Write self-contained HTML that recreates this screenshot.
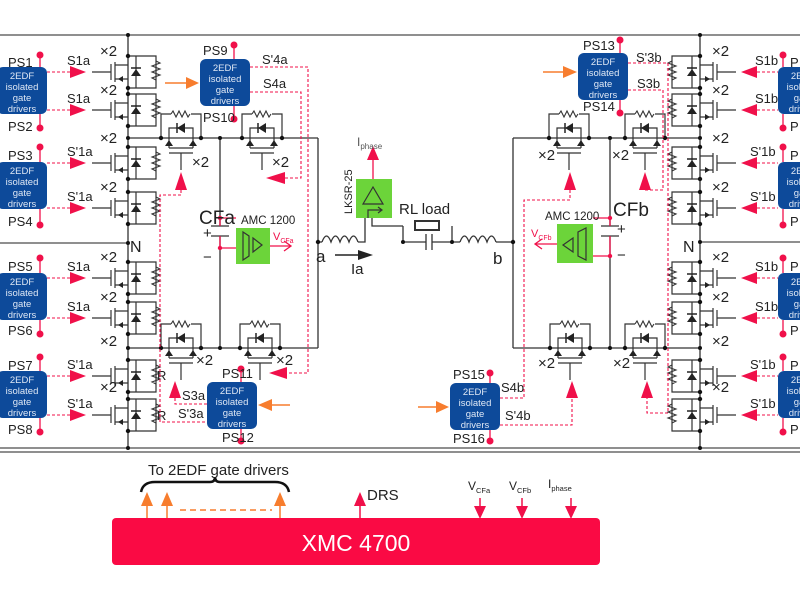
<!DOCTYPE html>
<html><head><meta charset="utf-8"><style>
html,body{margin:0;padding:0;background:#fff;width:800px;height:600px;overflow:hidden}
svg{display:block;font-family:"Liberation Sans",sans-serif}
</style></head><body>
<svg width="800" height="600" viewBox="0 0 800 600" xmlns="http://www.w3.org/2000/svg">
<defs>
<g id="legL">
 <path d="M-36 0H-17 M-17 -8V8 M-13 -10V10 M-13 -7H0 M-13 7H0 M0 -16H28V16H0 M8 -16V16" stroke="#333" stroke-width="1.2" fill="none"/>
 <polygon points="3,4 13,4 8,-3" fill="#222"/><path d="M3 -4H13" stroke="#222" stroke-width="1.5"/>
 <polygon points="-10,7 -5,4 -5,10" fill="#222"/>
 <path d="M28 -11l4 2-8 3 8 3-8 3 8 3-8 3 4 2" stroke="#333" stroke-width="1.1" fill="none"/>
 <circle cx="0" cy="-16" r="2.2" fill="#111"/><circle cx="0" cy="16" r="2.2" fill="#111"/>
</g>
<g id="hB">
 <path d="M-20 0V-24H-10 M10 -24H20V0 M-12 0V-10H12V0 M-12 0V10 M12 0V10 M-12 10H12 M-12 15H12 M0 15V32" stroke="#333" stroke-width="1.2" fill="none"/>
 <path d="M-10 -24l2 -3 3 6 3 -6 3 6 3 -6 3 6 2 -3" stroke="#333" stroke-width="1.1" fill="none"/>
 <polygon points="4,-15 4,-5 -4,-10" fill="#222"/><path d="M-4 -15V-5" stroke="#222" stroke-width="1.5"/>
 <polygon points="-12,2 -16,8 -8,8" fill="#222"/><polygon points="12,2 8,8 16,8" fill="#222"/>
 <circle cx="-20" cy="0" r="2.2" fill="#111"/><circle cx="20" cy="0" r="2.2" fill="#111"/>
</g>
<g id="gd">
 <rect x="0" y="0" width="50" height="47" rx="6" fill="#0d4a9a"/>
 <text x="25" y="12" font-size="9.5" fill="#dfe8f5" text-anchor="middle">2EDF</text>
 <text x="25" y="23" font-size="9.5" fill="#dfe8f5" text-anchor="middle">isolated</text>
 <text x="25" y="34" font-size="9.5" fill="#dfe8f5" text-anchor="middle">gate</text>
 <text x="25" y="45" font-size="9.5" fill="#dfe8f5" text-anchor="middle">drivers</text>
</g>
</defs>

<!-- frame -->
<g stroke="#6a6a6a" stroke-width="1.6" fill="none">
 <path d="M0 35H800 M0 243H128 M700 242H800 M0 448H800 M0 452H800"/>
</g>
<g stroke="#333" stroke-width="1.3" fill="none">
 <path d="M128 35V448 M700 35V448"/>
 <path d="M128 138H318 M128 348H318 M318 138V348 M220 138V226 M220 236V348"/>
 <path d="M513 138H700 M513 348H700 M513 138V348 M610 138V226 M610 236V348"/>
 <path d="M318 242H322 M358 242H365V217 M372 217V226H403 M452 226V242H460 M496 242H513 M403 226V242H426 M432 242H452 M403 242H405"/>
</g>
<g stroke="#333" stroke-width="1.3" fill="none">
 <path d="M322 242c3-8 6-8 9 0c3-8 6-8 9 0c3-8 6-8 9 0c3-8 6-8 9 0"/>
 <path d="M460 242c3-8 6-8 9 0c3-8 6-8 9 0c3-8 6-8 9 0c3-8 6-8 9 0"/>
 <rect x="415" y="221" width="24" height="9" stroke-width="2"/>
 <path d="M426 234V250 M432 234V250"/>
 <path d="M211 226H229 M211 236H229 M601 226H619 M601 236H619"/>
</g>
<g fill="#111"><circle cx="318" cy="242" r="2.2"/><circle cx="513" cy="242" r="2.2"/><circle cx="403" cy="242" r="2"/><circle cx="452" cy="242" r="2"/><circle cx="220" cy="138" r="2"/><circle cx="220" cy="348" r="2"/><circle cx="610" cy="138" r="2"/><circle cx="610" cy="348" r="2"/><circle cx="128" cy="35" r="2"/><circle cx="128" cy="448" r="2"/><circle cx="128" cy="243" r="2"/><circle cx="700" cy="242" r="2"/><circle cx="700" cy="35" r="2"/><circle cx="700" cy="448" r="2"/><circle cx="128" cy="138" r="2"/><circle cx="128" cy="348" r="2"/><circle cx="700" cy="138" r="2"/><circle cx="700" cy="348" r="2"/></g>

<!-- left leg -->
<use href="#legL" transform="translate(128,72)"/><use href="#legL" transform="translate(128,110)"/>
<use href="#legL" transform="translate(128,163)"/><use href="#legL" transform="translate(128,208)"/>
<use href="#legL" transform="translate(128,278)"/><use href="#legL" transform="translate(128,318)"/>
<use href="#legL" transform="translate(128,376)"/><use href="#legL" transform="translate(128,415)"/>
<!-- right leg -->
<use href="#legL" transform="translate(700,72) scale(-1,1)"/><use href="#legL" transform="translate(700,110) scale(-1,1)"/>
<use href="#legL" transform="translate(700,163) scale(-1,1)"/><use href="#legL" transform="translate(700,208) scale(-1,1)"/>
<use href="#legL" transform="translate(700,278) scale(-1,1)"/><use href="#legL" transform="translate(700,318) scale(-1,1)"/>
<use href="#legL" transform="translate(700,376) scale(-1,1)"/><use href="#legL" transform="translate(700,415) scale(-1,1)"/>
<!-- bridge transistors -->
<use href="#hB" transform="translate(181,138)"/><use href="#hB" transform="translate(262,138)"/>
<use href="#hB" transform="translate(181,348)"/><use href="#hB" transform="translate(260,348)"/>
<use href="#hB" transform="translate(569,138)"/><use href="#hB" transform="translate(645,138)"/>
<use href="#hB" transform="translate(570,348)"/><use href="#hB" transform="translate(645,348)"/>

<g font-size="15" fill="#222">
<text x="100" y="56">×2</text><text x="100" y="95">×2</text><text x="100" y="143">×2</text><text x="100" y="192">×2</text>
<text x="100" y="262">×2</text><text x="100" y="302">×2</text><text x="100" y="346">×2</text><text x="100" y="392">×2</text>
<text x="712" y="56">×2</text><text x="712" y="95">×2</text><text x="712" y="143">×2</text><text x="712" y="192">×2</text>
<text x="712" y="262">×2</text><text x="712" y="302">×2</text><text x="712" y="346">×2</text><text x="712" y="392">×2</text>
<text x="192" y="167">×2</text><text x="272" y="167">×2</text><text x="196" y="365">×2</text><text x="276" y="365">×2</text>
<text x="538" y="160">×2</text><text x="612" y="160">×2</text><text x="538" y="368">×2</text><text x="613" y="368">×2</text>
<text x="130" y="252" font-size="16">N</text><text x="683" y="252" font-size="16">N</text>
<text x="157" y="380" font-size="13">R</text><text x="157" y="420" font-size="13">R</text>
</g>

<!-- left drivers -->
<use href="#gd" transform="translate(-3,67)"/><use href="#gd" transform="translate(-3,162)"/>
<use href="#gd" transform="translate(-3,273)"/><use href="#gd" transform="translate(-3,371)"/>
<use href="#gd" transform="translate(778,67)"/><use href="#gd" transform="translate(778,162)"/>
<use href="#gd" transform="translate(778,273)"/><use href="#gd" transform="translate(778,371)"/>
<use href="#gd" transform="translate(200,59)"/><use href="#gd" transform="translate(207,382)"/>
<use href="#gd" transform="translate(578,53)"/><use href="#gd" transform="translate(450,383)"/>

<!-- PS dots -->
<g stroke="#f0104a" stroke-width="1.3">
<path d="M40 55V67 M40 114V128 M40 147V162 M40 209V225 M40 258V273 M40 320V334 M40 357V371 M40 418V432"/>
<path d="M783 55V67 M783 114V128 M783 147V162 M783 209V225 M783 258V273 M783 320V334 M783 357V371 M783 418V432"/>
<path d="M234 45V59 M234 106V119 M241 369V382 M241 429V441 M620 40V53 M620 100V113 M490 373V383 M490 430V441"/>
</g>
<g fill="#f0104a">
<circle cx="40" cy="55" r="3.5"/><circle cx="40" cy="128" r="3.5"/><circle cx="40" cy="147" r="3.5"/><circle cx="40" cy="225" r="3.5"/>
<circle cx="40" cy="258" r="3.5"/><circle cx="40" cy="334" r="3.5"/><circle cx="40" cy="357" r="3.5"/><circle cx="40" cy="432" r="3.5"/>
<circle cx="783" cy="55" r="3.5"/><circle cx="783" cy="128" r="3.5"/><circle cx="783" cy="147" r="3.5"/><circle cx="783" cy="225" r="3.5"/>
<circle cx="783" cy="258" r="3.5"/><circle cx="783" cy="334" r="3.5"/><circle cx="783" cy="357" r="3.5"/><circle cx="783" cy="432" r="3.5"/>
<circle cx="234" cy="45" r="3.5"/><circle cx="234" cy="119" r="3.5"/><circle cx="241" cy="369" r="3.5"/><circle cx="241" cy="441" r="3.5"/>
<circle cx="620" cy="40" r="3.5"/><circle cx="620" cy="113" r="3.5"/><circle cx="490" cy="373" r="3.5"/><circle cx="490" cy="441" r="3.5"/>
</g>
<g font-size="13" fill="#222">
<text x="8" y="67">PS1</text><text x="8" y="131">PS2</text><text x="8" y="160">PS3</text><text x="8" y="226">PS4</text>
<text x="8" y="271">PS5</text><text x="8" y="335">PS6</text><text x="8" y="370">PS7</text><text x="8" y="434">PS8</text>
<text x="790" y="67">P</text><text x="790" y="131">P</text><text x="790" y="160">P</text><text x="790" y="226">P</text>
<text x="790" y="271">P</text><text x="790" y="335">P</text><text x="790" y="370">P</text><text x="790" y="434">P</text>
<text x="203" y="55">PS9</text><text x="203" y="122">PS10</text><text x="222" y="378">PS11</text><text x="222" y="442">PS12</text>
<text x="583" y="50">PS13</text><text x="583" y="111">PS14</text><text x="453" y="379">PS15</text><text x="453" y="443">PS16</text>
<text x="67" y="65">S1a</text><text x="67" y="103">S1a</text><text x="67" y="156">S'1a</text><text x="67" y="201">S'1a</text>
<text x="67" y="271">S1a</text><text x="67" y="311">S1a</text><text x="67" y="369">S'1a</text><text x="67" y="408">S'1a</text>
<text x="755" y="65">S1b</text><text x="755" y="103">S1b</text><text x="750" y="156">S'1b</text><text x="750" y="201">S'1b</text>
<text x="755" y="271">S1b</text><text x="755" y="311">S1b</text><text x="750" y="369">S'1b</text><text x="750" y="408">S'1b</text>
<text x="262" y="64">S'4a</text><text x="263" y="88">S4a</text><text x="182" y="400">S3a</text><text x="178" y="418">S'3a</text>
<text x="636" y="62">S'3b</text><text x="637" y="88">S3b</text><text x="501" y="392">S4b</text><text x="505" y="420">S'4b</text>
</g>

<!-- dashed signals -->
<g stroke="#f0104a" stroke-width="1.1" stroke-dasharray="3,2" fill="none">
<path d="M47 72H70 M47 110H70 M47 163H70 M47 208H70 M47 278H70 M47 318H70 M47 376H70 M47 415H70"/>
<path d="M757 72H778 M757 110H778 M757 163H778 M757 208H778 M757 278H778 M757 318H778 M757 376H778 M757 415H778"/>
<path d="M250 67H308V373H287 M250 92H301V178H285 M181 190V195H160V422H207 M175 398V404H207"/>
<path d="M578 92H578 M628 63H668V413H647V398 M628 90H663V190H645 M570 190V200H524V398H500 M500 425H572V398"/>
</g>
<g fill="#f0104a">
<path d="M70 66L86 72L70 78Z M70 104L86 110L70 116Z M70 157L86 163L70 169Z M70 202L86 208L70 214Z M70 272L86 278L70 284Z M70 312L86 318L70 324Z M70 370L86 376L70 382Z M70 409L86 415L70 421Z"/>
<path d="M757 66L741 72L757 78Z M757 104L741 110L757 116Z M757 157L741 163L757 169Z M757 202L741 208L757 214Z M757 272L741 278L757 284Z M757 312L741 318L757 324Z M757 370L741 376L757 382Z M757 409L741 415L757 421Z"/>
<path d="M175 190L181 172L187 190Z M285 172L266 178L285 184Z M169 398L175 381L181 398Z M287 367L269 373L287 379Z"/>
<path d="M564 190L570 172L576 190Z M639 190L645 172L651 190Z M566 398L572 381L578 398Z M641 398L647 381L653 398Z"/>
</g>
<!-- orange arrows -->
<g stroke="#f77d2e" stroke-width="1.5" fill="#f77d2e">
<path d="M165 83H186" /><path d="M186 77L199 83L186 89Z" stroke="none"/>
<path d="M290 405H272"/><path d="M272 399L258 405L272 411Z" stroke="none"/>
<path d="M543 72H563"/><path d="M563 66L577 72L563 78Z" stroke="none"/>
<path d="M418 407H436"/><path d="M436 401L449 407L436 413Z" stroke="none"/>
</g>

<!-- AMC / LKSR -->
<rect x="236" y="228" width="34" height="36" fill="#6cd43a"/>
<rect x="557" y="224" width="36" height="39" fill="#6cd43a"/>
<rect x="356" y="179" width="36" height="39" fill="#6cd43a"/>
<g stroke="#333" stroke-width="1.2" fill="none">
<path d="M243 232V260L249 256V236Z M253 238V252L262 245Z"/>
<path d="M586 228V260L578 256V232Z M573 238V252L563 245Z"/>
<path d="M363 204L373 187L383 204Z M368 218V210H382 M378 207L382 210L378 213"/>
</g>
<g stroke="#f0104a" stroke-width="1.3" fill="none">
<path d="M220 226V218 M220 236V248 M220 218H236 M220 248H236 M270 246H290 M284 241L291 246L284 251"/>
<path d="M610 226V218 M610 236V256 M593 218H610 M593 256H610 M557 244H536 M542 239L535 244L542 249"/>
<path d="M373 179V158"/>
</g>
<path d="M367 160L373 146L379 160Z" fill="#f0104a"/>
<g fill="#f0104a"><circle cx="220" cy="218" r="2.2"/><circle cx="220" cy="248" r="2.2"/><circle cx="610" cy="218" r="2.2"/><circle cx="610" cy="256" r="2.2"/></g>
<g fill="#222">
<text x="241" y="224" font-size="11.5">AMC 1200</text>
<text x="545" y="220" font-size="11.5">AMC 1200</text>
<text x="199" y="224" font-size="19">CFa</text><text x="613" y="216" font-size="19">CFb</text>
<text x="203" y="238" font-size="15">+</text><text x="203" y="262" font-size="15">−</text>
<text x="617" y="234" font-size="15">+</text><text x="617" y="260" font-size="15">−</text>
<text x="273" y="240" font-size="11" fill="#f0104a">V<tspan font-size="7" dy="3">CFa</tspan></text>
<text x="531" y="237" font-size="11" fill="#f0104a">V<tspan font-size="7" dy="3">CFb</tspan></text>
<text x="357" y="146" font-size="12" fill="#555">I<tspan font-size="8" dy="3">phase</tspan></text>
<text x="352" y="214" font-size="11" transform="rotate(-90 352 214)">LKSR-25</text>
<text x="399" y="214" font-size="15">RL load</text>
<text x="316" y="262" font-size="17">a</text><text x="493" y="264" font-size="17">b</text>
<text x="351" y="274" font-size="15">Ia</text>
</g>
<path d="M335 255H360" stroke="#222" stroke-width="1.5"/><path d="M358 250L373 255L358 260Z" fill="#222"/>

<!-- bottom -->
<path d="M141 492q2-10 14-10H210q5 0 5-5q0 5 5 5H275q12 0 14 10" stroke="#111" stroke-width="2.5" fill="none"/>
<text x="148" y="475" font-size="15" fill="#222">To 2EDF gate drivers</text>
<g stroke="#f77d2e" stroke-width="1.5" fill="#f77d2e">
<path d="M147 519V504 M167 519V504 M280 519V504"/><path d="M180 510H272" stroke-dasharray="6,4" fill="none"/>
</g>
<g fill="#f77d2e"><path d="M141 506L147 492L153 506Z M161 506L167 492L173 506Z M274 506L280 492L286 506Z"/></g>
<g stroke="#f0104a" stroke-width="1.5"><path d="M360 519V504 M480 498V510 M522 498V510 M571 498V510"/></g>
<g fill="#f0104a"><path d="M354 506L360 492L366 506Z M474 506L480 519L486 506Z M516 506L522 519L528 506Z M565 506L571 519L577 506Z"/></g>
<g fill="#222">
<text x="367" y="500" font-size="15">DRS</text>
<text x="468" y="490" font-size="12">V<tspan font-size="7.5" dy="3">CFa</tspan></text>
<text x="509" y="490" font-size="12">V<tspan font-size="7.5" dy="3">CFb</tspan></text>
<text x="548" y="488" font-size="12">I<tspan font-size="7.5" dy="3">phase</tspan></text>
</g>
<rect x="112" y="518" width="488" height="47" rx="4" fill="#fa0a44"/>
<text x="356" y="551" font-size="23" fill="#fff" text-anchor="middle">XMC 4700</text>
</svg>
</body></html>
